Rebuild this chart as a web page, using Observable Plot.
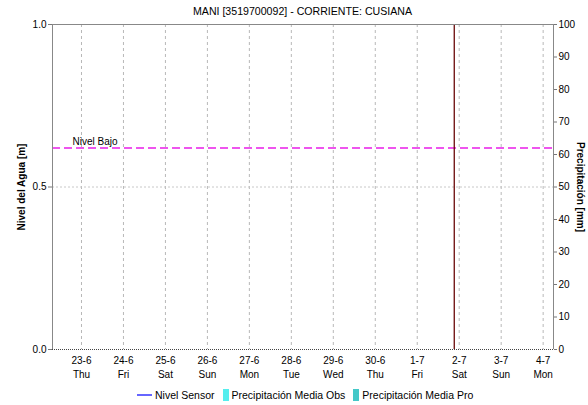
<!DOCTYPE html>
<html>
<head>
<meta charset="utf-8">
<script src="https://cdn.jsdelivr.net/npm/d3@7"></script>
<script src="https://cdn.jsdelivr.net/npm/@observablehq/plot@0.6"></script>
<style>
  body { margin: 0; background: #fff; font-family: "Liberation Sans", Arial, sans-serif; }
  #wrap { position: relative; width: 588px; height: 405px; overflow: hidden; }
  #wrap > svg { position: absolute; left: 0; top: 0; }
  #title { position: absolute; top: 5px; left: 52px; width: 501px; text-align: center; font-size: 10.6px; color: #000; }
  #legend { position: absolute; top: 389px; left: 137px; font-size: 10.5px; color: #000; white-space: nowrap; display: flex; align-items: center; }
  .sw-line { display: inline-block; width: 15px; height: 4px; margin-right: 3px; }
  .sw-box { display: inline-block; width: 6px; height: 12px; margin-right: 3px; margin-left: 8px; }
</style>
</head>
<body>
<div id="wrap">
  <div id="title"></div>
  <div id="legend"></div>
</div>
<script>
const chartTitle = "MANI [3519700092] - CORRIENTE: CUSIANA";
const days = ["2022-06-23","2022-06-24","2022-06-25","2022-06-26","2022-06-27","2022-06-28","2022-06-29","2022-06-30","2022-07-01","2022-07-02","2022-07-03","2022-07-04"];
const dayLabels = ["23-6","24-6","25-6","26-6","27-6","28-6","29-6","30-6","1-7","2-7","3-7","4-7"];
const weekdayLabels = ["Thu","Fri","Sat","Sun","Mon","Tue","Wed","Thu","Fri","Sat","Sun","Mon"];
const xDomain = ["2022-06-22T07:25:00Z", "2022-07-04T05:55:00Z"];
const nowTime = "2022-07-01T21:10:00Z";
const levelTicks = [0, 0.5, 1.0];
const levelGrid = [0.5];
const precipTicks = [0, 10, 20, 30, 40, 50, 60, 70, 80, 90, 100];
const precipMax = 100;
const nivelBajo = 0.62;
const nivelSensor = [];      // no sensor data shown
const precipObs = [];        // no data shown
const precipPro = [];        // no data shown
const legendItems = [
  {name: "Nivel Sensor", type: "line", color: "#0000ff"},
  {name: "Precipitación Media Obs", type: "box", color: "#55eeee"},
  {name: "Precipitación Media Pro", type: "box", color: "#44c8c8"}
];

const dayDates = days.map(d => new Date(d + "T00:00:00Z"));
const fmtDay = d => {
  const i = dayDates.findIndex(t => +t === +d);
  return dayLabels[i] + "\n" + weekdayLabels[i];
};

const chart = Plot.plot({
  width: 588,
  height: 405,
  marginTop: 24,
  marginBottom: 56,
  marginLeft: 52,
  marginRight: 35,
  style: {fontFamily: "'Liberation Sans', Arial, sans-serif", fontSize: "10px", color: "#000", background: "transparent", overflow: "visible"},
  x: {type: "time", domain: xDomain.map(d => new Date(d)), axis: null},
  y: {domain: [0, 1], axis: null},
  marks: [
    Plot.ruleX(dayDates, {x: d => d, stroke: "#b8b8b8", strokeDasharray: "3,3"}),
    Plot.ruleY(levelGrid, {y: d => d, stroke: "#c8c8c8", strokeDasharray: "2,2"}),
    Plot.rectY(precipObs, {x1: "start", x2: "end", y: d => d.value / precipMax, fill: "#55eeee"}),
    Plot.rectY(precipPro, {x1: "start", x2: "end", y: d => d.value / precipMax, fill: "#44c8c8"}),
    Plot.line(nivelSensor, {x: "time", y: "level", stroke: "#0000ff"}),
    Plot.ruleY([nivelBajo], {y: d => d, stroke: "#ee55ee", strokeWidth: 2, strokeDasharray: "8,4"}),
    Plot.text([nivelBajo], {y: d => d, frameAnchor: "left", text: () => "Nivel Bajo", dx: 20, dy: -6, textAnchor: "start", fontSize: 10}),
    Plot.ruleX([nowTime], {x: d => new Date(d), stroke: "#6a0808", strokeWidth: 1.3}),
    Plot.ruleY([1], {y: d => d, stroke: "#888"}),
    Plot.ruleX([xDomain[0]], {x: d => new Date(d), stroke: "#888"}),
    Plot.ruleX([xDomain[1]], {x: d => new Date(d), stroke: "#888"}),
    Plot.ruleY([0], {y: d => d, stroke: "#444", strokeDasharray: "1,1"}),
    Plot.axisX(dayDates, {tickSize: 0, tickPadding: 5, tickFormat: fmtDay, lineHeight: 1.35, label: null, fontSize: 10}),
    Plot.axisY(levelTicks, {anchor: "left", tickSize: 4, tickPadding: 2, tickFormat: d3.format(".1f"), stroke: "#777", label: null}),
    Plot.axisY(precipTicks.map(p => p / precipMax), {anchor: "right", tickSize: 3, tickPadding: 2, tickFormat: d => String(Math.round(d * precipMax)), stroke: "#777", label: null}),
    Plot.text(["Nivel del Agua [m]"], {frameAnchor: "left", dx: -31, rotate: -90, textAnchor: "middle", fontWeight: "bold", fontSize: 10}),
    Plot.text(["Precipitación [mm]"], {frameAnchor: "right", dx: 27, rotate: 90, textAnchor: "middle", fontWeight: "bold", fontSize: 10})
  ]
});

const wrap = document.getElementById("wrap");
wrap.insertBefore(chart, wrap.firstChild);
document.getElementById("title").textContent = chartTitle;
const legend = document.getElementById("legend");
const NS = "http://www.w3.org/2000/svg";
legendItems.forEach((it, i) => {
  let sw;
  if (it.type === "line") {
    sw = document.createElementNS(NS, "svg");
    sw.setAttribute("class", "sw-line");
    sw.setAttribute("width", "15");
    sw.setAttribute("height", "4");
    const ln = document.createElementNS(NS, "line");
    ln.setAttribute("x1", "0"); ln.setAttribute("x2", "15");
    ln.setAttribute("y1", "2"); ln.setAttribute("y2", "2");
    ln.setAttribute("stroke", it.color);
    ln.setAttribute("stroke-width", "1.2");
    sw.appendChild(ln);
  } else {
    sw = document.createElement("span");
    sw.className = "sw-box";
    sw.style.background = it.color;
  }
  legend.appendChild(sw);
  const t = document.createElement("span");
  t.textContent = it.name;
  legend.appendChild(t);
});
</script>
</body>
</html>
